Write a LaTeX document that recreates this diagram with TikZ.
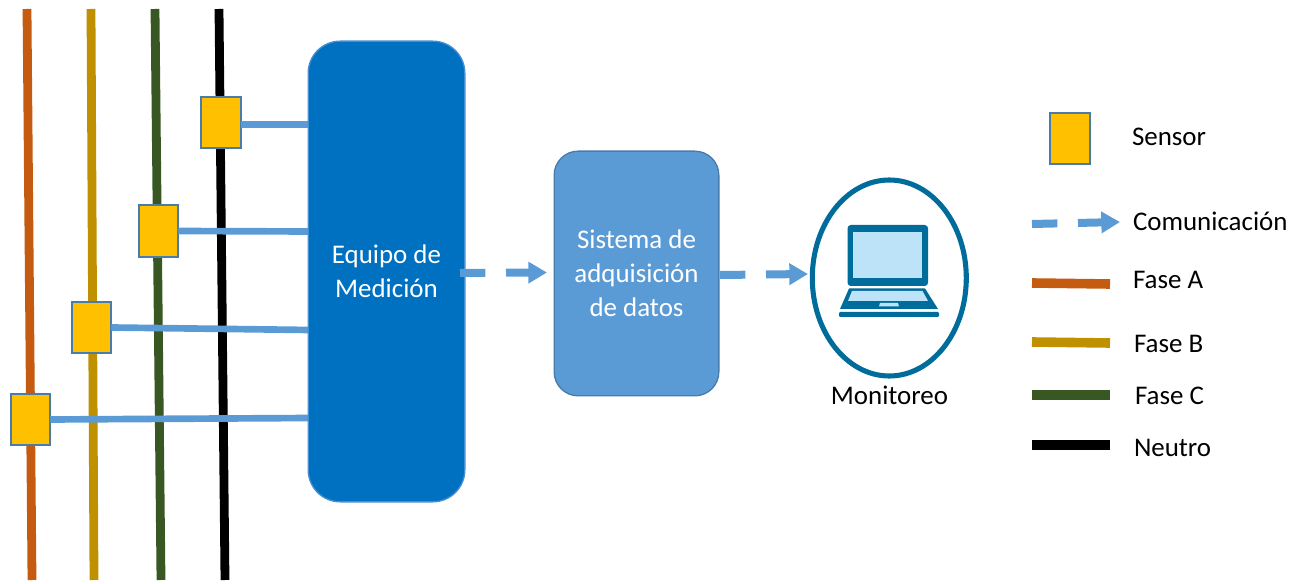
\documentclass[tikz,border=0pt]{standalone}
\usepackage{fontspec}
\setmainfont{Carlito}
\usetikzlibrary{arrows.meta,shapes.geometric}
\definecolor{faseA}{HTML}{C55A11}
\definecolor{faseB}{HTML}{BF9000}
\definecolor{faseC}{HTML}{385723}
\definecolor{azul}{HTML}{5B9BD5}
\definecolor{azulos}{HTML}{0070C0}
\definecolor{sens}{HTML}{FFC000}
\definecolor{lap}{HTML}{006C9B}
\definecolor{lapl}{HTML}{BDE3F8}
\tikzset{
  x=0.75pt,y=-0.75pt,
  fase/.style={line width=6.6pt},
  leg/.style={line width=7.2pt},
  sensorbox/.style={draw=azul!80!black,line width=1.5pt,fill=sens,minimum width=29.8pt,minimum height=38.4pt,inner sep=0pt,outer sep=0pt},
  enlace/.style={draw=azul,line width=5pt},
  comm/.style={draw=azul,line width=6pt,dash pattern=on 19pt off 15.5pt on 200pt,-{Triangle[width=15.5pt,length=14pt]}},
  txt/.style={font=\fontsize{20.2pt}{22pt}\selectfont,inner sep=0pt,outer sep=0pt},
  blanco/.style={txt,text=white,align=center},
  etiq/.style={txt,anchor=west},
}
\begin{document}
\begin{tikzpicture}
\useasboundingbox (0,0) rectangle (1306,584);
% phases
\coordinate (a1) at (27,9); \coordinate (a2) at (32,580);
\coordinate (b1) at (91,9); \coordinate (b2) at (94,580);
\coordinate (c1) at (155,9); \coordinate (c2) at (161,580);
\coordinate (n1) at (219,9); \coordinate (n2) at (225,580);
\draw[fase,faseA] (a1) -- (a2);
\draw[fase,faseB] (b1) -- (b2);
\draw[fase,faseC] (c1) -- (c2);
\draw[fase,black] (n1) -- (n2);
% connection points on the measuring box
\coordinate (e1) at (310,124.5);
\coordinate (e2) at (310,231.5);
\coordinate (e3) at (310,330);
\coordinate (e4) at (310,418);
% sensors
\node[sensorbox] (s1) at (221,122.5) {};
\node[sensorbox] (s2) at (158.5,231) {};
\node[sensorbox] (s3) at (91.5,327.5) {};
\node[sensorbox] (s4) at (30.5,419.5) {};
\draw[enlace] (s1.east |- e1) -- (e1);
\draw[enlace] (s2.east) -- (e2);
\draw[enlace] (s3.east) -- (e3);
\draw[enlace] (s4.east) -- (e4);
% boxes
\node[draw=azul!75!azulos,line width=1pt,fill=azulos,rounded corners=24pt,minimum width=117.5pt,minimum height=345.5pt,inner sep=0pt,outer sep=0pt,blanco] (eq) at (386.5,271.5) {Equipo de\\[3.5pt]Medición};
\node[draw=azul!80!black,line width=1pt,fill=azul,rounded corners=18pt,minimum width=123.5pt,minimum height=183.5pt,inner sep=0pt,outer sep=0pt,blanco] (sa) at (636.5,273.5) {Sistema de\\[3.5pt]adquisición\\[3.5pt]de datos};
% monitor
\node[draw=lap,line width=3.8pt,fill=white,ellipse,minimum width=115.5pt,minimum height=147pt,inner sep=0pt,outer sep=0pt] (mon) at (889.3,278) {};
\fill[lap,rounded corners=2.5pt] (847.5,225) rectangle (928,286);
\fill[lapl] (853,232) rectangle (922,278);
\fill[lap] (849,288.5) -- (925,288.5) -- (938,309) -- (840,309) -- cycle;
\fill[lapl] (852,291) -- (922.5,291) -- (928,301) -- (848,301) -- cycle;
\fill[lapl] (880,303) -- (898,303) -- (899,306.5) -- (879,306.5) -- cycle;
\fill[lap,rounded corners=0.8pt] (839,312) rectangle (939,317);
\node[txt] (monl) at (889.5,395) {Monitoreo};
% communication arrows
\coordinate (c1a) at (460,273); \coordinate (c1b) at (547,272.5);
\coordinate (c2a) at (720,275); \coordinate (c2b) at (808,274);
\draw[comm] (c1a) -- (c1b);
\draw[comm] (c2a) -- (c2b);
% legend
\node[sensorbox] (ls) at (1070,138.5) {};
\node[etiq] (t1) at (1132,137) {Sensor};
\coordinate (la1) at (1032,224); \coordinate (la2) at (1120,222);
\draw[comm] (la1) -- (la2);
\node[etiq] (t2) at (1133,221) {Comunicación};
\coordinate (lA1) at (1032,283); \coordinate (lA2) at (1110,284);
\coordinate (lB1) at (1032,342); \coordinate (lB2) at (1110,343);
\coordinate (lC1) at (1032,395); \coordinate (lC2) at (1110,395);
\coordinate (lN1) at (1032,445); \coordinate (lN2) at (1110,445);
\draw[leg,faseA] (lA1) -- (lA2);
\draw[leg,faseB] (lB1) -- (lB2);
\draw[leg,faseC] (lC1) -- (lC2);
\draw[leg,black] (lN1) -- (lN2);
\node[etiq] (t3) at (1133,280) {Fase A};
\node[etiq] (t4) at (1134,344) {Fase B};
\node[etiq] (t5) at (1135,396) {Fase C};
\node[etiq] (t6) at (1134,448) {Neutro};
\end{tikzpicture}
\end{document}
